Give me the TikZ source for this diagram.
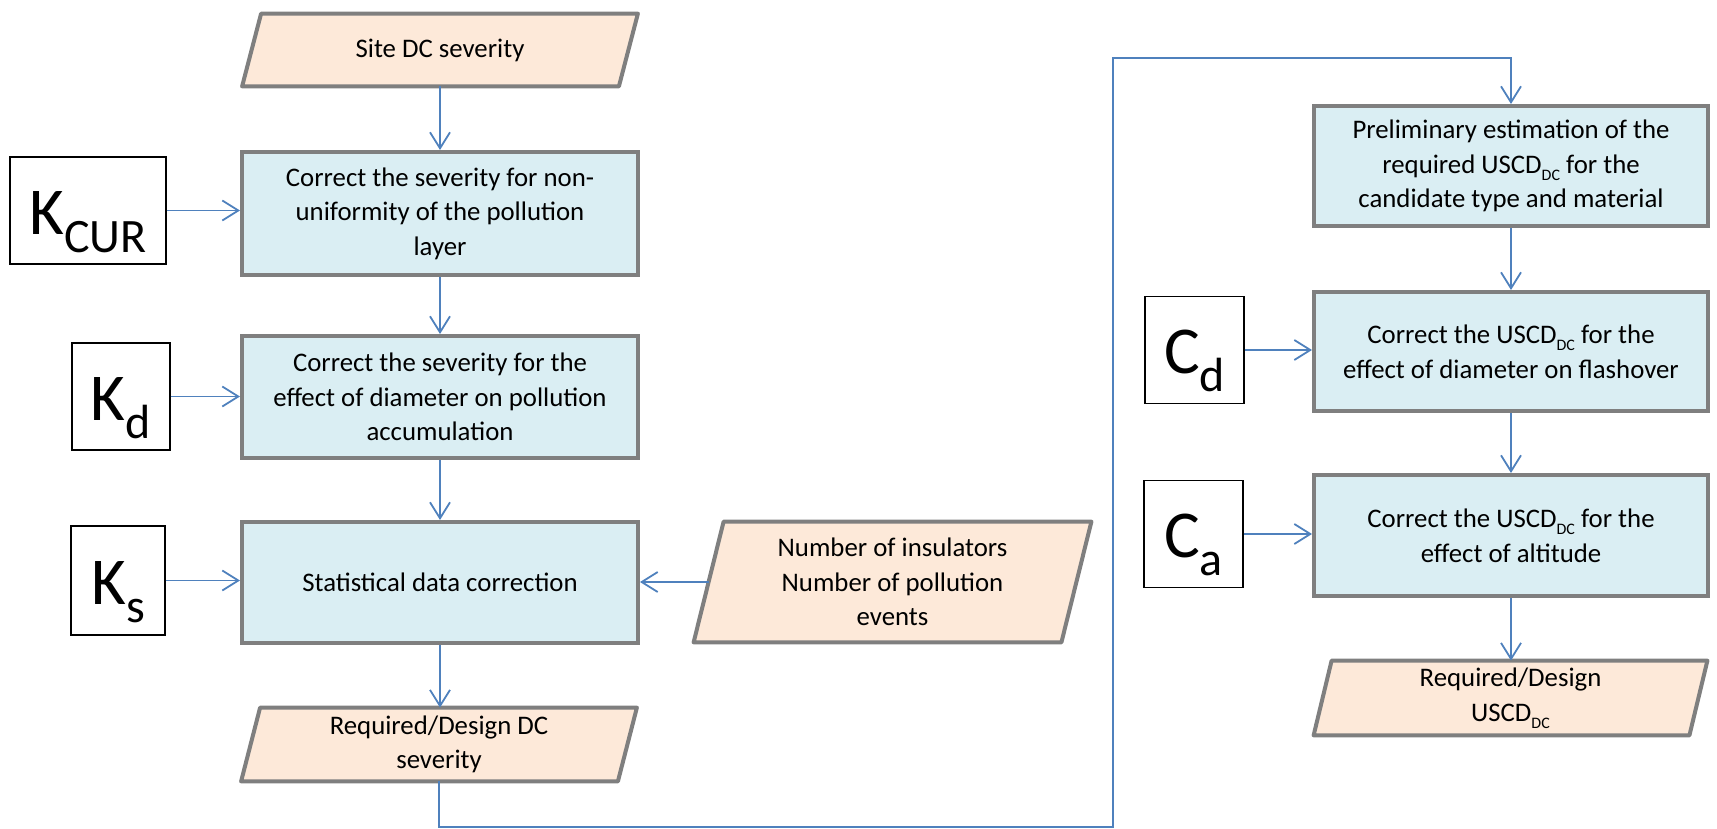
\documentclass[tikz,border=0pt]{standalone}
\usepackage{fontspec}
\setmainfont{Carlito}
\usetikzlibrary{arrows.meta,backgrounds}

\definecolor{procfill}{HTML}{DAEEF3}
\definecolor{iofill}{HTML}{FDE9D9}
\definecolor{edgegray}{HTML}{7F7F7F}
\definecolor{linkblue}{HTML}{4F81BD}

\newcommand\flowfont{\fontsize{13.4}{17.3}\selectfont}
\newcommand\dcsub{\raisebox{-3.5pt}{\fontsize{8}{8}\selectfont DC}}
\newcommand\coef[2]{{\fontsize{33.5}{40}\selectfont #1}\raisebox{-9pt}{\fontsize{24}{28}\selectfont #2}}

\begin{document}
\begin{tikzpicture}[x=0.5pt,y=-0.5pt,
  proc/.style={draw=edgegray, line width=2pt, fill=procfill, align=center,
    inner sep=2pt, font=\flowfont, minimum width=198pt},
  iotext/.style={align=center, inner sep=0pt, font=\flowfont},
  iopath/.style={draw=edgegray, line width=2pt, fill=iofill, line join=round},
  kbox/.style={draw=black, line width=0.7pt, fill=white, inner xsep=0pt,
    inner ysep=0pt, text height=38.5pt, text depth=15pt, minimum height=53.5pt},
  conn/.style={draw=linkblue, line width=0.9pt, -{Straight Barb[length=8pt,width=10pt]}}]
\useasboundingbox (0,0) rectangle (1717,829);

% left column: severity chain
\node[iotext, minimum width=188pt, minimum height=36pt] (site) at (440,50) {Site DC severity};
\node[proc, minimum height=61.5pt] (b1) at (440,213.5)
  {Correct the severity for non-\\uniformity of the pollution\\layer};
\node[proc, minimum height=61pt] (b2) at (440,397)
  {Correct the severity for the\\effect of diameter on pollution\\accumulation};
\node[proc, minimum height=60.5pt] (b3) at (440,582.5) {Statistical data correction};
\node[iotext, minimum width=188pt, minimum height=36.5pt] (reqdc) at (439,744.5)
  {Required/Design DC\\severity};
\node[iotext, minimum width=183.5pt, minimum height=60pt] (num) at (892.5,582)
  {Number of insulators\\Number of pollution\\events};

% correction factors on the left
\node[kbox, minimum width=78pt] (kcur) at (88,210.5) {\coef{K}{CUR}};
\node[kbox, minimum width=49pt] (kd) at (121,396.5) {\coef{K}{d}};
\node[kbox, minimum width=47pt, minimum height=54.5pt] (ks) at (118,580.5) {\coef{K}{s}};

% right column: USCD chain
\node[proc, minimum width=197pt, minimum height=60pt] (prelim) at (1511,166)
  {Preliminary estimation of the\\required USCD\dcsub{} for the\\candidate type and material};
\node[proc, minimum width=197pt, minimum height=59.5pt] (bcd) at (1511,351.5)
  {Correct the USCD\dcsub{} for the\\effect of diameter on flashover};
\node[proc, minimum width=197pt, minimum height=60.5pt] (bca) at (1511,535.5)
  {Correct the USCD\dcsub{} for the\\effect of altitude};
\node[iotext, minimum width=187.5pt, minimum height=37pt] (requscd) at (1510.5,698)
  {Required/Design\\USCD\dcsub};

\node[kbox, minimum width=49.5pt] (kcd) at (1194.5,350) {\coef{C}{d}};
\node[kbox, minimum width=49.5pt] (kca) at (1193.5,534) {\coef{C}{a}};

% slanted data shapes behind their texts
\begin{scope}[on background layer]
  \foreach \n/\s in {site/9.5, reqdc/9.5, num/15, requscd/9}{
    \path[iopath] ([xshift=\s*0.5pt]\n.north west) -- ([xshift=\s*0.5pt]\n.north east)
      -- ([xshift=-\s*0.5pt]\n.south east) -- ([xshift=-\s*0.5pt]\n.south west) -- cycle;
  }
\end{scope}

% connectors
\draw[conn] (site.south -| b1.north) -- (b1.north);
\draw[conn] (b1.south) -- (b2.north);
\draw[conn] (b2.south) -- (b3.north);
\draw[conn] (b3.south) -- (b3.south |- reqdc.north);
\draw[conn] (kcur.east) -- (kcur.east -| b1.west);
\draw[conn] (kd.east) -- (kd.east -| b2.west);
\draw[conn] (ks.east) -- (ks.east -| b3.west);
\draw[conn] (num.west) -- (num.west -| b3.east);

\coordinate (loopbot) at (1113,827);
\coordinate (looptop) at (1113,58);
\draw[conn] (reqdc.south) |- (loopbot) -- (looptop) -| (prelim.north);

\draw[conn] (prelim.south) -- (bcd.north);
\draw[conn] (bcd.south) -- (bca.north);
\draw[conn] (bca.south) -- (bca.south |- requscd.north);
\draw[conn] (kcd.east) -- (kcd.east -| bcd.west);
\draw[conn] (kca.east) -- (kca.east -| bca.west);
\end{tikzpicture}
\end{document}
